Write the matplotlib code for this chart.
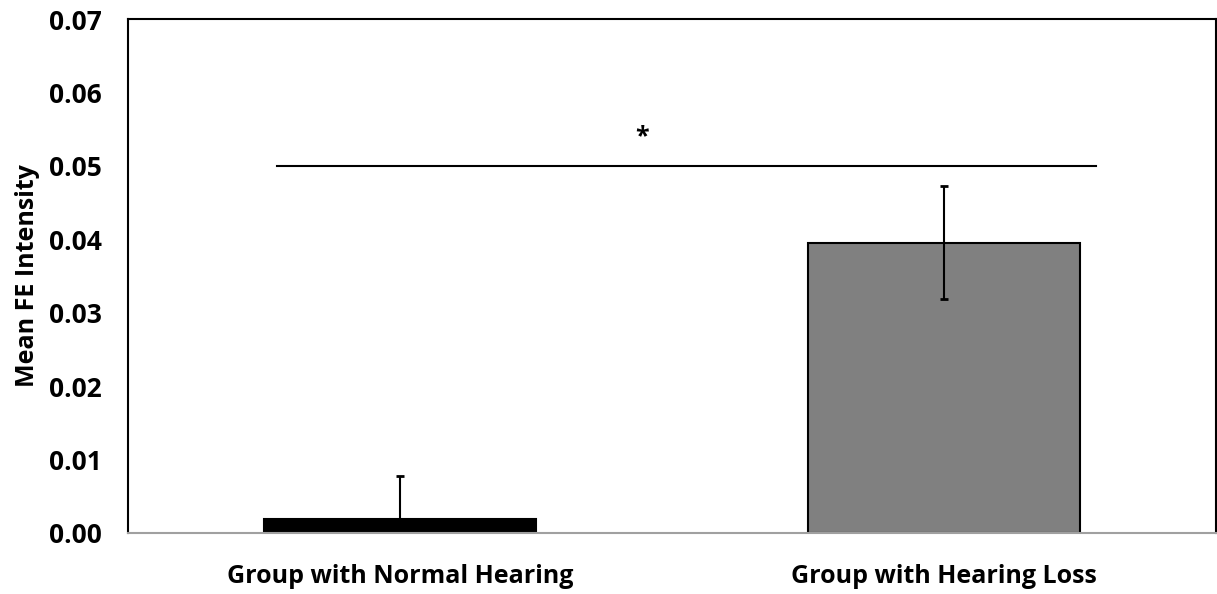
import matplotlib.pyplot as plt

plt.rcParams['font.family'] = ['Open Sans', 'DejaVu Sans']

groups = ["Group with Normal Hearing", "Group with Hearing Loss"]
means = [0.0019, 0.0395]
errors = [0.0059, 0.0077]
bar_colors = ["#000000", "#808080"]
y_ticks = [0.00, 0.01, 0.02, 0.03, 0.04, 0.05, 0.06, 0.07]
sig_level = 0.050
sig_span = (-0.226, 1.279)
star_x = 0.445

fig = plt.figure(figsize=(12.17, 5.94), dpi=100)
ax = fig.add_axes([0.1052, 0.1027, 0.8938, 0.8653])

x = list(range(len(groups)))
ax.bar(x, means, width=0.5, color=bar_colors, edgecolor="black", linewidth=1.5, zorder=2)

# first bar only shows the upper whisker, second shows both
ax.errorbar(x[0], means[0], yerr=[[0], [errors[0]]], fmt="none", ecolor="black",
            elinewidth=1.5, capsize=3, capthick=2, zorder=3)
ax.errorbar(x[1], means[1], yerr=errors[1], fmt="none", ecolor="black",
            elinewidth=1.5, capsize=3, capthick=2, zorder=3)

# significance bar
ax.plot(sig_span, [sig_level, sig_level], color="black", linewidth=1.5)
ax.text(star_x, sig_level + 0.0040, "*", ha="center", va="center",
        fontsize=18, fontweight="bold")

ax.set_xlim(-0.5, 1.5)
ax.set_ylim(0, 0.07)
ax.set_yticks(y_ticks)
ax.set_yticklabels([f"{t:.2f}" for t in y_ticks], fontsize=19, fontweight="bold")
ax.set_xticks(x)
ax.set_xticklabels(groups, fontsize=18, fontweight="bold")
ax.tick_params(axis="y", length=0, pad=19)
ax.tick_params(axis="x", length=0, pad=22)
ax.set_ylabel("Mean FE Intensity", fontsize=18, fontweight="bold", labelpad=6)

for side in ["left", "top", "right"]:
    ax.spines[side].set_linewidth(1.5)
    ax.spines[side].set_color("black")
ax.spines["bottom"].set_color("#a0a0a0")
ax.spines["bottom"].set_linewidth(1.5)

fig.savefig("out.png", dpi=100)
